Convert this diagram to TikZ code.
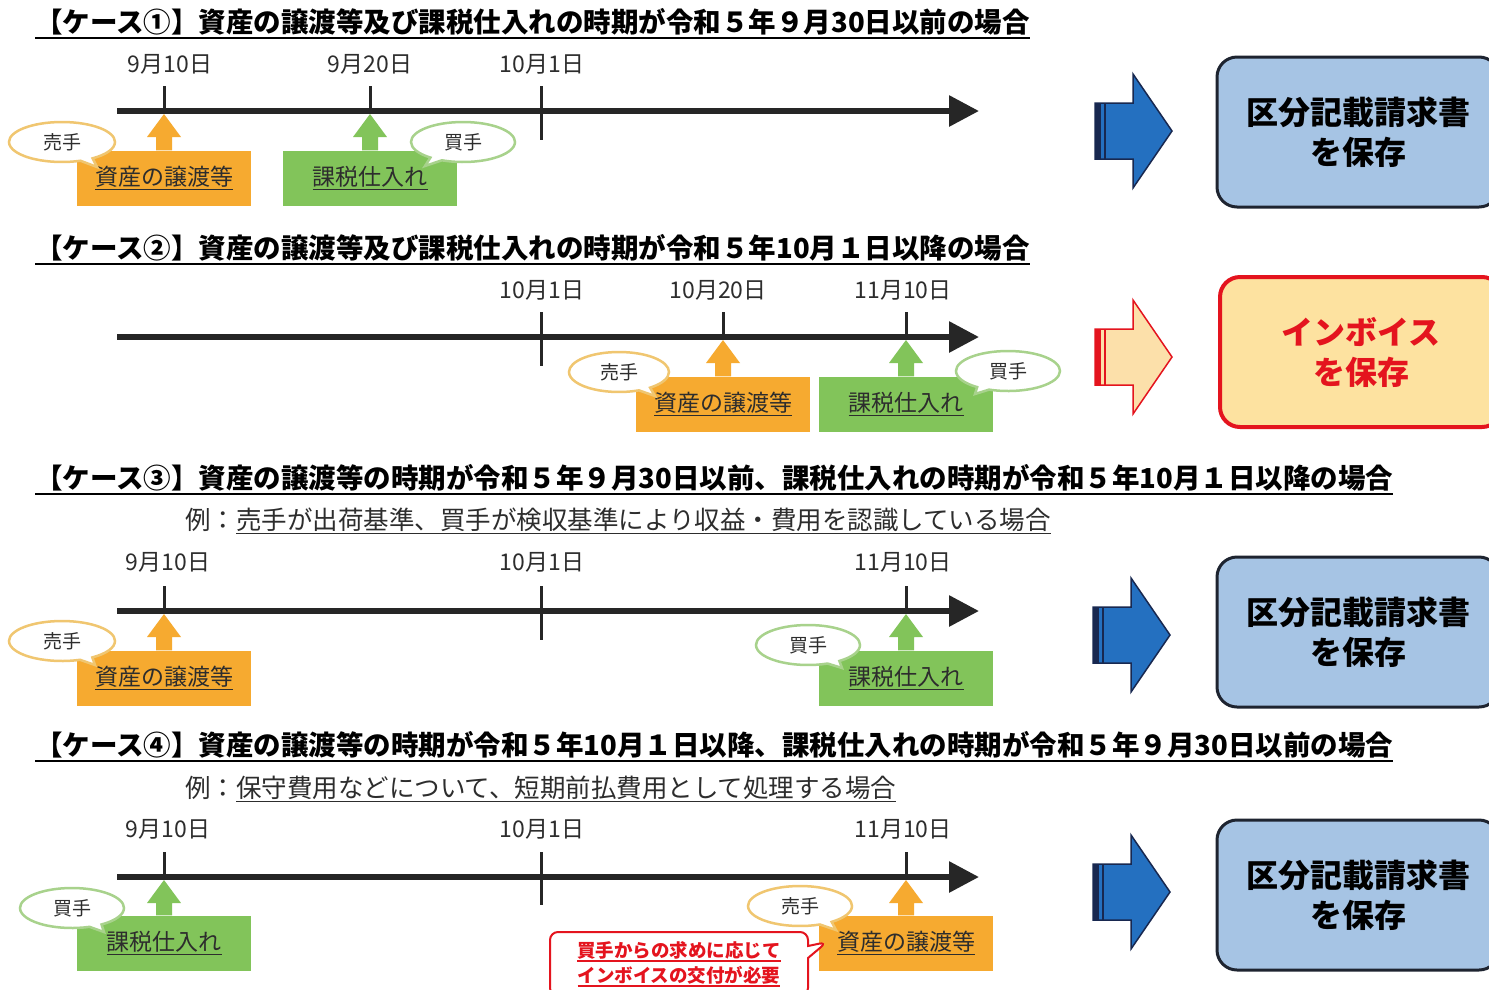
\documentclass[tikz,border=0pt]{standalone}
\usepackage{fontspec}
\setmainfont{Noto Sans CJK JP}
\usetikzlibrary{calc,shapes.callouts,shapes.geometric,arrows.meta}
\definecolor{org}{RGB}{246,170,48}
\definecolor{grn}{RGB}{130,196,90}
\definecolor{orgl}{RGB}{240,198,112}
\definecolor{grnl}{RGB}{168,210,140}
\definecolor{txt}{RGB}{45,45,45}
\definecolor{tlc}{RGB}{38,38,38}
\definecolor{bfill}{RGB}{166,196,228}
\definecolor{bdk}{RGB}{30,36,48}
\definecolor{barr}{RGB}{36,112,192}
\definecolor{bnav}{RGB}{24,40,80}
\definecolor{rd}{RGB}{228,20,30}
\definecolor{pch}{RGB}{252,224,170}
\definecolor{ifill}{RGB}{253,226,160}
\newcommand\ul[1]{\vtop{\hbox{#1}\kern1.3pt\hrule height 1.3pt}}
\newcommand\ulh[1]{\vtop{\hbox{#1}\kern2pt\hrule height 2pt}}
\newcommand\UpArr[3]{\fill[#3] let \p1=(#1.north), \p2=(#2) in (\x1-8pt,\y1) -- (\x1-8pt,\y2-23pt) -- (\x1-17pt,\y2-23pt) -- (\x1,\y2) -- (\x1+17pt,\y2-23pt) -- (\x1+8pt,\y2-23pt) -- (\x1+8pt,\y1) -- cycle;}
\newcommand\BlkArr[5]{%
\begin{scope}[shift={(#1,#2)}]
\draw[fill=#3,draw=#4,line width=1.5pt,line join=miter] (0,-28) -- (38,-28) -- (38,-57) -- (77,0) -- (38,57) -- (38,28) -- (0,28) -- cycle;
\fill[#5] (0,-28) rectangle (6,28);
\fill[#5] (9,-28) rectangle (11,28);
\end{scope}}
\begin{document}
\begin{tikzpicture}[x=1pt,y=-1pt,
  hd/.style={anchor=west,inner sep=0,font=\bfseries\fontsize{27.5}{30}\selectfont,text=black},
  sub/.style={anchor=west,inner sep=0,font=\fontsize{25.5}{28}\selectfont,text=txt},
  date/.style={inner sep=0,font=\fontsize{23}{26}\selectfont,text=txt},
  tl/.style={line width=6pt,draw=tlc,-{Triangle[length=30pt,width=30pt]}},
  tk/.style={line width=3pt,draw=tlc},
  obox/.style={fill=org,minimum width=174pt,minimum height=55pt,inner sep=0,font=\fontsize{23}{26}\selectfont,text=txt},
  gbox/.style={obox,fill=grn},
  obub/.style={ellipse callout,draw=orgl,line width=2.5pt,fill=white,minimum width=104pt,minimum height=40pt,inner sep=0,font=\fontsize{19}{22}\selectfont,text=txt},
  gbub/.style={obub,draw=grnl},
  bbox/.style={draw=bdk,line width=3pt,fill=bfill,rounded corners=20pt,minimum width=282pt,minimum height=150pt,align=center,font=\bfseries\fontsize{32}{40}\selectfont,text=black},
  ibox/.style={bbox,draw=rd,line width=4pt,fill=ifill,text=rd}
]
\clip (0,0) rectangle (1489,989);
\fill[white] (0,0) rectangle (1489,989);

% ---------------- Case 1 ----------------
\node[hd] (h1) at (35,24) {\ulh{【ケース①】資産の譲渡等及び課税仕入れの時期が令和５年９月30日以前の場合}};
\node[date] (d11) at (170,64) {9月10日};
\node[date] (d12) at (370,64) {9月20日};
\node[date] (d13) at (542,64) {10月1日};
\coordinate (l1s) at (117,111); \coordinate (l1e) at (979,111);
\draw[tl] (l1s) -- (l1e);
\coordinate (k11) at (164,86); \coordinate (a11) at (164,114);
\coordinate (k12) at (370,86); \coordinate (a12) at (370,114);
\coordinate (k13a) at (541,86); \coordinate (k13b) at (541,140);
\draw[tk] (k11) -- (164,111);
\draw[tk] (k12) -- (370,111);
\draw[tk] (k13a) -- (k13b);
\node[obox] (o1) at (164,178) {\ul{資産の譲渡等}};
\node[gbox] (g1) at (370,178) {\ul{課税仕入れ}};
\UpArr{o1}{a11}{org}
\UpArr{g1}{a12}{grn}
\node[obub,minimum width=106pt,callout absolute pointer={(97,167)}] (s1) at (62,142) {売手};
\node[gbub,callout absolute pointer={(425,166)}] (b1) at (463,142) {買手};
\BlkArr{1095}{131}{barr}{bnav}{bnav}
\node[bbox] (r1) at (1358,132) {区分記載請求書\\を保存};

% ---------------- Case 2 ----------------
\node[hd] (h2) at (35,250) {\ulh{【ケース②】資産の譲渡等及び課税仕入れの時期が令和５年10月１日以降の場合}};
\node[date] (d21) at (542,290) {10月1日};
\node[date] (d22) at (718,290) {10月20日};
\node[date] (d23) at (903,290) {11月10日};
\coordinate (l2s) at (117,337); \coordinate (l2e) at (979,337);
\draw[tl] (l2s) -- (l2e);
\coordinate (k21a) at (541,312); \coordinate (k21b) at (541,366);
\coordinate (k22) at (723,312); \coordinate (a22) at (723,340);
\coordinate (k23) at (906,312); \coordinate (a23) at (906,340);
\draw[tk] (k21a) -- (k21b);
\draw[tk] (k22) -- (723,337);
\draw[tk] (k23) -- (906,337);
\node[obox] (o2) at (723,404) {\ul{資産の譲渡等}};
\node[gbox] (g2) at (906,404) {\ul{課税仕入れ}};
\UpArr{o2}{a22}{org}
\UpArr{g2}{a23}{grn}
\node[obub,minimum width=100pt,callout absolute pointer={(655,396)}] (s2) at (619,372) {売手};
\node[gbub,callout absolute pointer={(975,394)}] (b2) at (1008,371) {買手};
\BlkArr{1095}{357}{pch}{rd}{rd}
\node[ibox] (r2) at (1361,352) {インボイス\\を保存};

% ---------------- Case 3 ----------------
\node[hd] (h3) at (35,480) {\ulh{【ケース③】資産の譲渡等の時期が令和５年９月30日以前、課税仕入れの時期が令和５年10月１日以降の場合}};
\node[sub] (e3) at (185,521) {例：\ul{売手が出荷基準、買手が検収基準により収益・費用を認識している場合}};
\node[date] (d31) at (168,562) {9月10日};
\node[date] (d32) at (542,562) {10月1日};
\node[date] (d33) at (903,562) {11月10日};
\coordinate (l3s) at (117,611); \coordinate (l3e) at (979,611);
\draw[tl] (l3s) -- (l3e);
\coordinate (k31) at (164,586); \coordinate (a31) at (164,614);
\coordinate (k32a) at (541,586); \coordinate (k32b) at (541,640);
\coordinate (k33) at (906,586); \coordinate (a33) at (906,614);
\draw[tk] (k31) -- (164,611);
\draw[tk] (k32a) -- (k32b);
\draw[tk] (k33) -- (906,611);
\node[obox] (o3) at (164,678) {\ul{資産の譲渡等}};
\node[gbox] (g3) at (906,678) {\ul{課税仕入れ}};
\UpArr{o3}{a31}{org}
\UpArr{g3}{a33}{grn}
\node[obub,minimum width=106pt,callout absolute pointer={(95,665)}] (s3) at (62,641) {売手};
\node[gbub,callout absolute pointer={(842,668)}] (b3) at (808,645) {買手};
\BlkArr{1093}{635}{barr}{bnav}{bnav}
\node[bbox] (r3) at (1358,632) {区分記載請求書\\を保存};

% ---------------- Case 4 ----------------
\node[hd] (h4) at (35,747) {\ulh{【ケース④】資産の譲渡等の時期が令和５年10月１日以降、課税仕入れの時期が令和５年９月30日以前の場合}};
\node[sub] (e4) at (185,789) {例：\ul{保守費用などについて、短期前払費用として処理する場合}};
\node[date] (d41) at (168,829) {9月10日};
\node[date] (d42) at (542,829) {10月1日};
\node[date] (d43) at (903,829) {11月10日};
\coordinate (l4s) at (117,877); \coordinate (l4e) at (979,877);
\draw[tl] (l4s) -- (l4e);
\coordinate (k41) at (164,852); \coordinate (a41) at (164,880);
\coordinate (k42a) at (541,852); \coordinate (k42b) at (541,905);
\coordinate (k43) at (906,852); \coordinate (a43) at (906,880);
\draw[tk] (k41) -- (164,877);
\draw[tk] (k42a) -- (k42b);
\draw[tk] (k43) -- (906,877);
\node[gbox] (g4) at (164,943) {\ul{課税仕入れ}};
\node[obox] (o4) at (906,943) {\ul{資産の譲渡等}};
\UpArr{g4}{a41}{grn}
\UpArr{o4}{a43}{org}
\node[gbub,callout absolute pointer={(104,932)}] (b4) at (72,908) {買手};
\node[obub,callout absolute pointer={(836,930)}] (s4) at (800,906) {売手};
\node[rectangle callout,draw=rd,line width=2pt,fill=white,rounded corners=8pt,minimum width=258pt,minimum height=64pt,inner sep=0,callout absolute pointer={(827,942)},callout pointer width=12pt,align=center,font=\bfseries\fontsize{18.5}{25}\selectfont,text=rd] (rc) at (679,964) {\ul{買手からの求めに応じて}\\\ul{インボイスの交付が必要}};
\BlkArr{1093}{892}{barr}{bnav}{bnav}
\node[bbox] (r4) at (1358,895) {区分記載請求書\\を保存};
\end{tikzpicture}
\end{document}
